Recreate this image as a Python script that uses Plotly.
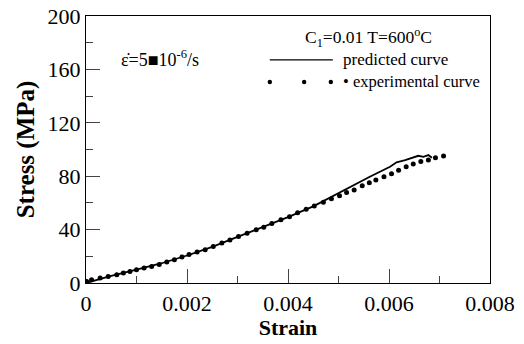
import plotly.graph_objects as go

# experimental data (strain, stress MPa)
exp_strain = [0.000014, 0.00011, 0.00028, 0.00044, 0.00061, 0.00074, 0.00087, 0.00100,
              0.00115, 0.00130, 0.00145, 0.00160, 0.00175, 0.00190, 0.00204, 0.00220,
              0.00236, 0.00252, 0.00269, 0.00285, 0.00302, 0.00319, 0.00337, 0.00352,
              0.00368, 0.00386, 0.00403, 0.00419, 0.00436, 0.00452, 0.00470, 0.00486,
              0.00502, 0.00516, 0.00531, 0.00547, 0.00561, 0.00574, 0.00590, 0.00605,
              0.00619, 0.00634, 0.00648, 0.00663, 0.00678, 0.00692, 0.00708]
exp_stress = [1.2, 2.5, 3.7, 4.9, 6.2, 7.5, 8.7, 9.9,
              11.2, 12.4, 13.9, 15.7, 17.4, 19.4, 21.4, 23.2,
              24.9, 27.3, 29.9, 32.3, 34.8, 37.3, 39.8, 41.8,
              44.5, 47.3, 49.7, 52.7, 55.3, 57.7, 60.5, 63.2,
              65.4, 67.7, 69.7, 72.9, 75.1, 77.1, 79.6, 81.9,
              84.4, 87.1, 89.1, 91.1, 92.1, 93.8, 95.1]

# predicted curve
pred_strain = [0.0, 0.0005, 0.0010, 0.0015, 0.0020, 0.0025, 0.0030, 0.0035, 0.0040,
               0.0045, 0.00483, 0.00523, 0.00562, 0.00602, 0.00615, 0.00632, 0.00651,
               0.00658, 0.00668, 0.00678, 0.00685]
pred_stress = [0.0, 5.3, 10.0, 14.8, 20.6, 27.1, 34.5, 41.6, 49.3,
               57.4, 64.0, 72.1, 79.6, 87.1, 90.4, 92.1, 94.5,
               95.3, 94.5, 95.8, 93.8]

x_ticks = [0, 0.002, 0.004, 0.006, 0.008]
x_ticktext = ["0", "0.002", "0.004", "0.006", "0.008"]
y_ticks = [0, 40, 80, 120, 160, 200]
y_ticktext = ["0", "40", "80", "120", "160", "200"]

FONT = "'Liberation Serif', serif"

fig = go.Figure()
fig.add_trace(go.Scatter(x=pred_strain, y=pred_stress, mode="lines",
                         line=dict(color="black", width=1.8), name="predicted curve",
                         showlegend=False))
fig.add_trace(go.Scatter(x=exp_strain, y=exp_stress, mode="markers",
                         marker=dict(color="black", size=5), name="experimental curve",
                         showlegend=False))

axis_common = dict(showline=True, linecolor="black", linewidth=1.2, mirror=True,
                   ticks="inside", ticklen=14, tickwidth=1.2, tickcolor="#444",
                   showgrid=False, zeroline=False, automargin=False,
                   ticklabeloverflow="allow",
                   tickfont=dict(family=FONT, size=22, color="black"))

fig.update_xaxes(range=[0, 0.008], tickmode="array", tickvals=x_ticks, ticktext=x_ticktext,
                 minor=dict(dtick=0.001, ticklen=7, ticks="inside", tickcolor="#444", tickwidth=1.2),
                 title=dict(text="<b>Strain</b>", font=dict(family=FONT, size=22, color="black"),
                            standoff=2),
                 **axis_common)
fig.update_yaxes(range=[0, 200], tickmode="array", tickvals=y_ticks, ticktext=y_ticktext,
                 minor=dict(dtick=20, ticklen=7, ticks="inside", tickcolor="#444", tickwidth=1.2),
                 title=dict(text="<b>Stress (MPa)</b>", font=dict(family=FONT, size=25, color="black"),
                            standoff=5),
                 **axis_common)

# legend drawn as decoration
fig.add_shape(type="line", xref="paper", yref="paper", x0=0.455, x1=0.611, y0=0.836, y1=0.836,
              line=dict(color="black", width=1.2))
for px in [0.455, 0.540, 0.606]:
    fig.add_shape(type="circle", xref="paper", yref="paper", xsizemode="pixel", ysizemode="pixel",
                  xanchor=px, yanchor=0.753, x0=-2.2, x1=2.2, y0=-2.2, y1=2.2,
                  fillcolor="black", line=dict(color="black", width=0))

fig.add_annotation(xref="paper", yref="paper", x=0.632, y=0.836, xanchor="left", yanchor="middle",
                   text="predicted curve", showarrow=False,
                   font=dict(family=FONT, size=17, color="black"))
fig.add_annotation(xref="paper", yref="paper", x=0.632, y=0.753, xanchor="left", yanchor="middle",
                   text="• experimental curve", showarrow=False,
                   font=dict(family=FONT, size=16.5, color="black"))
fig.add_annotation(xref="paper", yref="paper", x=0.538, y=0.92, xanchor="left", yanchor="middle",
                   text="C<sub>1</sub>=0.01 T=600<sup>o</sup>C", showarrow=False,
                   font=dict(family=FONT, size=17.5, color="black"))
fig.add_annotation(xref="paper", yref="paper", x=0.082, y=0.84, xanchor="left", yanchor="middle",
                   text="ε̇=5■10<sup>-6</sup>/s", showarrow=False,
                   font=dict(family=FONT, size=18, color="black"))

fig.update_layout(width=524, height=344, plot_bgcolor="white", paper_bgcolor="white",
                  margin=dict(l=86, r=34, t=16, b=61), showlegend=False)

fig.write_html("out.html", config={"displayModeBar": False},
               post_script="document.body.style.margin='0';")
